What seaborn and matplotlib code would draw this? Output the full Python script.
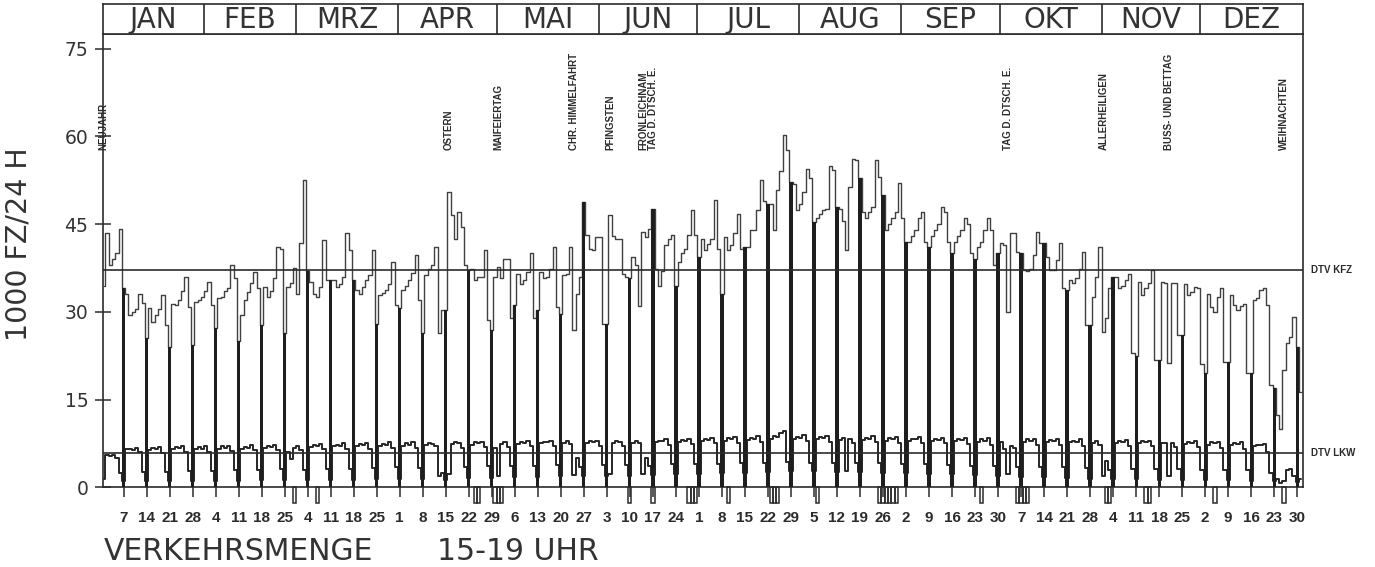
import numpy as np
import pandas as pd
import matplotlib
matplotlib.use("Agg")
import matplotlib.pyplot as plt
from matplotlib.patches import Rectangle
import seaborn as sns

# ---------------- data ----------------
months = ["JAN", "FEB", "MRZ", "APR", "MAI", "JUN", "JUL", "AUG", "SEP", "OKT", "NOV", "DEZ"]
month_days = [31, 28, 31, 30, 31, 30, 31, 31, 30, 31, 30, 31]

# KFZ, 1000 vehicles, one value per day (weeks Mon..Sun), 1990
kfz_q1 = [34.5, 43.4, 38.0, 39.0, 40.0, 44.2, 34.0,
          33.0, 29.5, 30.0, 30.5, 33.0, 31.5, 25.5,
          30.6, 28.3, 29.5, 30.5, 32.9, 27.7, 24.0,
          31.4, 31.2, 32.0, 33.5, 36.0, 30.8, 24.3,
          31.7, 32.0, 32.6, 33.5, 35.1, 31.1, 27.2,
          32.3, 32.5, 33.5, 34.0, 38.0, 35.7, 25.0,
          29.4, 32.0, 33.4, 35.0, 36.8, 34.0, 27.7,
          34.3, 32.6, 33.5, 35.7, 41.1, 40.8, 26.3,
          34.3, 35.0, 37.5, 33.0, 41.7, 52.5, 37.0,
          35.1, 33.1, 32.5, 34.3, 42.2, 35.4, 35.4,
          35.4, 34.3, 34.8, 36.0, 43.4, 40.5, 35.4,
          33.7, 33.0, 34.3, 35.4, 36.3, 40.5, 28.0,
          32.8, 33.2, 33.7, 34.8, 38.5, 31.1, 30.6]
kfz_q2 = [33.7, 34.5, 35.4, 36.6, 39.7, 32.0, 26.3,
          36.3, 37.4, 38.0, 41.1, 26.3, 30.3, 30.3,
          50.5, 46.5, 42.5, 47.0, 44.5, 38.0, 37.1,
          37.4, 35.4, 36.0, 36.0, 40.5, 28.6, 26.9,
          36.0, 37.7, 35.7, 39.0, 39.0, 29.0, 31.1,
          36.5, 34.8, 35.4, 36.8, 40.0, 29.0, 30.3,
          36.8, 35.7, 36.0, 37.4, 41.1, 30.9, 29.7,
          36.3, 36.5, 41.1, 26.9, 33.1, 36.0, 48.8,
          43.1, 40.8, 40.5, 42.8, 42.8, 28.0, 28.0,
          46.5, 43.0, 42.5, 42.5, 36.5, 36.0, 35.7,
          39.4, 38.0, 31.0, 43.7, 42.8, 44.2, 47.6,
          37.4, 34.5, 37.0, 41.5, 42.5, 43.1, 34.5,
          38.5, 40.0, 40.8, 43.1, 47.4, 43.1, 39.4]
kfz_q3 = [42.5, 40.5, 41.6, 42.5, 49.1, 40.8, 33.0,
          42.8, 40.5, 41.5, 43.4, 46.8, 40.8, 41.1,
          41.1, 44.0, 44.0, 47.4, 52.5, 49.0, 48.5,
          48.5, 44.0, 50.8, 54.0, 60.2, 57.6, 52.2,
          51.9, 47.4, 48.5, 50.5, 54.5, 52.8, 45.4,
          46.0, 46.8, 47.4, 47.5, 55.0, 54.2, 48.0,
          47.6, 45.6, 40.5, 51.3, 56.2, 56.0, 52.8,
          47.0, 46.0, 47.0, 48.0, 56.0, 53.0, 50.0,
          44.0, 45.0, 46.0, 47.0, 52.0, 46.0, 42.0,
          42.0, 43.0, 44.0, 46.0, 47.0, 42.0, 41.0,
          43.0, 44.0, 45.0, 48.0, 47.0, 42.0, 40.0,
          42.0, 43.0, 44.0, 46.0, 45.0, 40.0, 39.0,
          41.0, 42.0, 44.0, 46.0, 44.0, 38.0, 40.0]
kfz_q4 = [41.7, 41.5, 30.0, 43.4, 43.4, 40.2, 40.0,
          37.1, 37.0, 37.4, 39.7, 43.7, 41.7, 41.7,
          39.4, 37.1, 37.2, 38.8, 41.7, 34.0, 33.7,
          35.4, 35.0, 35.7, 37.4, 40.2, 27.7, 27.7,
          32.5, 36.0, 41.0, 26.6, 29.0, 34.0, 36.0,
          36.0, 34.0, 34.5, 35.5, 36.5, 23.0, 22.5,
          35.1, 32.8, 34.0, 35.0, 37.1, 21.7, 21.7,
          35.1, 35.0, 21.2, 35.0, 35.0, 26.0, 26.0,
          34.8, 32.8, 33.4, 34.3, 34.0, 21.0, 19.5,
          33.1, 30.9, 30.0, 32.5, 34.0, 21.5, 21.5,
          32.8, 31.1, 30.3, 31.0, 31.4, 19.5, 19.5,
          32.0, 32.3, 33.7, 34.0, 31.1, 17.5, 17.0,
          12.3, 10.0, 20.0, 24.6, 25.7, 29.1, 24.0,
          16.3]

# LKW, 1000 trucks per day
lkw_q1 = [1.5, 5.5, 5.4, 5.6, 5.0, 2.4, 1.0,
          6.5, 6.6, 6.3, 6.8, 6.0, 2.6, 1.0,
          6.4, 6.8, 6.5, 6.9, 5.9, 2.7, 1.0,
          6.6, 6.9, 6.7, 7.0, 6.0, 2.8, 1.1,
          6.5, 6.9, 6.6, 7.0, 6.1, 2.8, 1.0,
          6.6, 7.0, 6.8, 7.1, 6.2, 2.9, 1.1,
          6.5, 6.9, 6.8, 7.2, 6.3, 3.0, 1.2,
          6.7, 7.0, 6.9, 7.3, 6.4, 3.2, 1.2,
          6.0, 4.8, 6.8, 7.0, 6.3, 3.0, 1.2,
          6.9, 7.2, 7.0, 7.4, 6.5, 3.1, 1.3,
          7.0, 7.3, 7.1, 7.5, 6.6, 3.2, 1.3,
          7.0, 7.4, 7.2, 7.6, 6.6, 3.3, 1.4,
          7.1, 7.4, 7.3, 7.7, 6.7, 3.4, 1.4]
lkw_q2 = [7.1, 7.5, 7.3, 7.8, 6.8, 3.3, 1.5,
          7.2, 7.6, 7.4, 7.0, 2.0, 2.5, 1.3,
          2.2, 7.4, 7.7, 7.6, 6.8, 3.5, 1.6,
          7.3, 7.7, 7.5, 7.8, 6.9, 3.6, 1.6,
          6.8, 2.0, 7.4, 7.7, 6.9, 3.6, 1.7,
          7.4, 7.8, 7.6, 7.9, 7.0, 3.7, 1.8,
          7.5, 7.8, 7.7, 8.0, 7.1, 3.8, 1.9,
          7.5, 7.9, 7.4, 2.1, 5.0, 3.5, 2.0,
          7.6, 7.9, 7.8, 8.0, 7.0, 3.8, 2.0,
          2.3, 7.6, 7.9, 7.8, 7.1, 3.8, 2.0,
          7.6, 7.9, 7.5, 2.3, 5.0, 3.6, 2.1,
          7.7, 8.0, 7.9, 8.2, 7.3, 3.9, 2.2,
          7.8, 8.1, 8.0, 8.3, 7.4, 4.0, 2.3]
lkw_q3 = [7.9, 8.3, 8.1, 8.4, 7.5, 4.0, 2.4,
          8.0, 8.4, 8.2, 8.6, 7.6, 4.1, 2.5,
          8.1, 8.5, 8.3, 8.8, 7.8, 4.2, 2.6,
          8.3, 8.7, 8.6, 9.2, 9.6, 4.3, 2.8,
          8.3, 8.6, 8.5, 8.9, 7.9, 4.2, 2.8,
          8.2, 8.6, 8.4, 8.8, 7.8, 4.2, 2.7,
          8.1, 8.4, 2.8, 8.3, 7.6, 4.1, 2.6,
          8.1, 8.5, 8.3, 8.7, 7.7, 4.1, 2.5,
          8.0, 8.4, 8.2, 8.6, 7.6, 4.0, 2.4,
          8.0, 8.3, 8.2, 8.6, 7.5, 3.9, 2.3,
          7.9, 8.3, 8.1, 8.5, 7.5, 3.8, 2.2,
          7.9, 8.2, 8.1, 8.4, 7.4, 3.7, 2.1,
          7.8, 8.2, 8.0, 8.4, 7.3, 3.6, 2.0]
lkw_q4 = [7.8, 6.5, 2.2, 7.0, 6.8, 3.5, 1.8,
          7.8, 8.2, 8.0, 8.3, 7.3, 3.5, 1.7,
          7.7, 8.1, 7.9, 8.2, 7.2, 3.4, 1.6,
          7.7, 8.0, 7.8, 8.2, 7.1, 3.3, 1.5,
          7.6, 7.9, 7.2, 2.0, 4.5, 3.0, 1.4,
          7.6, 7.9, 7.8, 8.1, 7.0, 3.2, 1.4,
          7.5, 7.9, 7.7, 8.0, 7.0, 3.1, 1.3,
          7.5, 7.6, 2.0, 7.6, 6.9, 3.1, 1.3,
          7.4, 7.8, 7.6, 7.9, 6.9, 3.0, 1.2,
          7.3, 7.7, 7.5, 7.8, 6.8, 3.0, 1.2,
          7.3, 7.6, 7.4, 7.7, 6.6, 2.9, 1.1,
          7.0, 7.3, 7.2, 7.4, 6.0, 2.5, 1.0,
          1.5, 0.8, 1.0, 3.0, 3.2, 2.0, 0.9,
          1.5]

dtv_kfz = 37.1
dtv_lkw = 5.8

sunday_labels = [7, 14, 21, 28, 4, 11, 18, 25, 4, 11, 18, 25, 1, 8, 15, 22, 29,
                 6, 13, 20, 27, 3, 10, 17, 24, 1, 8, 15, 22, 29, 5, 12, 19, 26,
                 2, 9, 16, 23, 30, 7, 14, 21, 28, 4, 11, 18, 25, 2, 9, 16, 23, 30]

holiday_days = [0, 105, 120, 143, 154, 164, 167, 275, 304, 324, 359]
holiday_names = ["NEUJAHR", "OSTERN", "MAIFEIERTAG", "CHR. HIMMELFAHRT", "PFINGSTEN",
                 "FRONLEICHNAM", "TAG D. DTSCH. E.", "TAG D. DTSCH. E.",
                 "ALLERHEILIGEN", "BUSS- UND BETTAG", "WEIHNACHTEN"]

marked_days = [58, 65, 113, 114, 119, 120, 121, 160, 167, 178, 179, 180, 190,
               203, 204, 205, 217, 236, 237, 238, 239, 240, 241, 267,
               278, 279, 280, 281, 305, 306, 317, 318, 338, 359]

yticks = [0, 15, 30, 45, 60, 75]

# ---------------- build ----------------
kfz = np.array(kfz_q1 + kfz_q2 + kfz_q3 + kfz_q4)
lkw = np.array(lkw_q1 + lkw_q2 + lkw_q3 + lkw_q4)
days = np.arange(len(kfz))
df = pd.DataFrame({"day": days, "kfz": kfz, "lkw": lkw})
sundays = np.arange(6, len(kfz), 7)

sns.set_theme(style="white")
ink = "#2b2b2b"
plt.rcParams["font.family"] = ["DejaVu Sans"]
small = ["Liberation Sans", "DejaVu Sans"]

W, H = 1375, 567
fig = plt.figure(figsize=(W / 100, H / 100), dpi=100)
x0, x1 = 103, 1303
y0, ytop = 487.3, 34
ax = fig.add_axes([x0 / W, (H - y0) / H, (x1 - x0) / W, (y0 - ytop) / H])
xmin, xmax = -0.25, 364.75
ax.set_xlim(xmin, xmax)
ax.set_ylim(0, 77.5)

sns.lineplot(data=df, x="day", y="kfz", drawstyle="steps-mid", color="#404040",
             lw=1.0, ax=ax, errorbar=None)
sns.lineplot(data=df, x="day", y="lkw", drawstyle="steps-mid", color="#262626",
             lw=1.4, ax=ax, errorbar=None)
ax.bar(sundays, kfz[sundays], width=1.0, color="#1e1e1e", linewidth=0, zorder=3)

ax.axhline(dtv_kfz, color=ink, lw=1.2, zorder=4)
ax.axhline(dtv_lkw, color=ink, lw=1.2, zorder=4)
ax.annotate("DTV KFZ", xy=(1, dtv_kfz), xycoords=("axes fraction", "data"),
            xytext=(6, 0), textcoords="offset points", va="center", ha="left",
            fontsize=7, fontweight="bold", color=ink, family=small)
ax.annotate("DTV LKW", xy=(1, dtv_lkw), xycoords=("axes fraction", "data"),
            xytext=(6, 0), textcoords="offset points", va="center", ha="left",
            fontsize=7, fontweight="bold", color=ink, family=small)

for d in marked_days:
    ax.add_patch(Rectangle((d - 0.5, 0), 1.0, -2.6, fill=False, ec=ink, lw=1.1,
                           clip_on=False, zorder=5))

for d, name in zip(holiday_days, holiday_names):
    ax.text(d, 57.6, name, rotation=90, ha="center", va="bottom", fontsize=7,
            fontweight="bold", color=ink, family=small)

ax.set_xticks(sundays)
ax.set_xticklabels([str(v) for v in sunday_labels], family=small,
                   fontweight="bold", fontsize=11, color=ink)
ax.set_yticks(yticks)
ax.set_yticklabels([str(v) for v in yticks], fontsize=13.5, color="#333333")
ax.tick_params(axis="x", direction="out", length=7, width=1.1, color=ink, pad=10,
               bottom=True)
ax.tick_params(axis="y", direction="inout", length=11, width=1.1, color=ink, pad=5,
               left=True)
ax.set_xlabel("")
ax.set_ylabel("")
for s in ax.spines.values():
    s.set_visible(True)
    s.set_color(ink)
    s.set_linewidth(1.2)

# month band
bax = fig.add_axes([x0 / W, (H - ytop) / H, (x1 - x0) / W, 30 / H])
bax.set_xlim(xmin, xmax)
bax.set_ylim(0, 1)
bax.set_xticks([])
bax.set_yticks([])
for s in bax.spines.values():
    s.set_visible(True)
    s.set_color(ink)
    s.set_linewidth(1.2)
start = 0
for name, n in zip(months, month_days):
    end = start + n
    bax.text((start + end - 1) / 2, 0.45, name, ha="center", va="center",
             fontsize=20, color="#333333")
    if end < 365:
        bax.axvline(end - 0.5, color=ink, lw=1.2)
    start = end

fig.text(19 / W, 1 - 244 / H, "1000 FZ/24 H", rotation=90, ha="center",
         va="center", fontsize=20.5, color="#333333")
fig.text(104 / W, 1 - 560 / H, "VERKEHRSMENGE", ha="left", va="baseline",
         fontsize=21.5, color="#333333")
fig.text(437 / W, 1 - 560 / H, "15-19 UHR", ha="left", va="baseline",
         fontsize=21.5, color="#333333")

fig.savefig("out.png", dpi=100, facecolor="white")
